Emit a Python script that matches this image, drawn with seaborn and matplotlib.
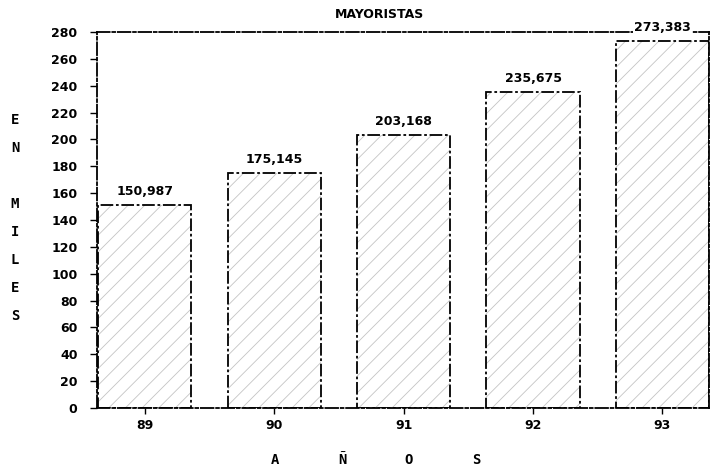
import matplotlib
matplotlib.use("Agg")
import matplotlib.pyplot as plt
import seaborn as sns
import pandas as pd

# Wholesale figures per year (thousands)
years = ["89", "90", "91", "92", "93"]
values = [150.987, 175.145, 203.168, 235.675, 273.383]
value_labels = ["150,987", "175,145", "203,168", "235,675", "273,383"]
y_ticks = [0, 20, 40, 60, 80, 100, 120, 140, 160, 180, 200, 220, 240, 260, 280]
title = "MAYORISTAS"
y_letters = ["E", "N", "", "M", "I", "L", "E", "S"]
x_letters = ["A", "Ñ", "O", "S"]

df = pd.DataFrame({"anio": years, "valor": values})

sns.set_style("white")
plt.rcParams["font.family"] = ["DejaVu Sans"]
plt.rcParams["hatch.linewidth"] = 0.6
for key in ("text.color", "axes.labelcolor", "xtick.color", "ytick.color"):
    plt.rcParams[key] = "black"

fig = plt.figure(figsize=(7.1, 4.68), dpi=100)
ax = fig.add_axes([0.1366, 0.1282, 0.8620, 0.8034])

dashdot = (0, (7, 1.5, 1.5, 1.5))

# hatched fill
sns.barplot(data=df, x="anio", y="valor", ax=ax, width=0.72,
            color="white", edgecolor="#c4c4c4", linewidth=0, hatch="//",
            errorbar=None)
# dashed outlines on top
sns.barplot(data=df, x="anio", y="valor", ax=ax, width=0.72,
            fill=False, edgecolor="black", linewidth=1.3,
            linestyle=dashdot, errorbar=None)

ax.bar_label(ax.containers[0], labels=value_labels, padding=5,
             fontsize=9, fontweight="bold", color="black",
             bbox=dict(facecolor="white", edgecolor="none", pad=0.5))

ax.set_xlim(-0.37, 4.36)
ax.set_ylim(0, 280)
ax.set_yticks(y_ticks)
ax.set_yticklabels([str(t) for t in y_ticks])
ax.set_xlabel("")
ax.set_ylabel("")

for s in ax.spines.values():
    s.set_visible(True)
    s.set_color("black")
    s.set_linewidth(1.3)
    s.set_linestyle(dashdot)

ax.tick_params(axis="y", direction="out", length=5, width=1, pad=9,
               labelsize=9, left=True, colors="black")
ax.tick_params(axis="x", direction="out", length=4, width=1, pad=4,
               labelsize=9, bottom=True, colors="black")
for lbl in ax.get_xticklabels() + ax.get_yticklabels():
    lbl.set_fontweight("bold")

fig.text(380 / 710, 1 - 15 / 468, title, ha="center", va="center",
         fontsize=9, fontweight="bold", color="black")

# vertical axis caption, one letter per line
y0 = 120
for i, ch in enumerate(y_letters):
    if ch:
        fig.text(15 / 710, 1 - (y0 + i * 28) / 468, ch, ha="center",
                 va="center", fontsize=10, fontweight="bold",
                 family="DejaVu Sans Mono", color="black")

# horizontal axis caption, spaced letters
for i, ch in enumerate(x_letters):
    fig.text((275 + i * 67) / 710, 1 - 460 / 468, ch, ha="center",
             va="center", fontsize=10, fontweight="bold",
             family="DejaVu Sans Mono", color="black")

fig.savefig("out.png", dpi=100)
